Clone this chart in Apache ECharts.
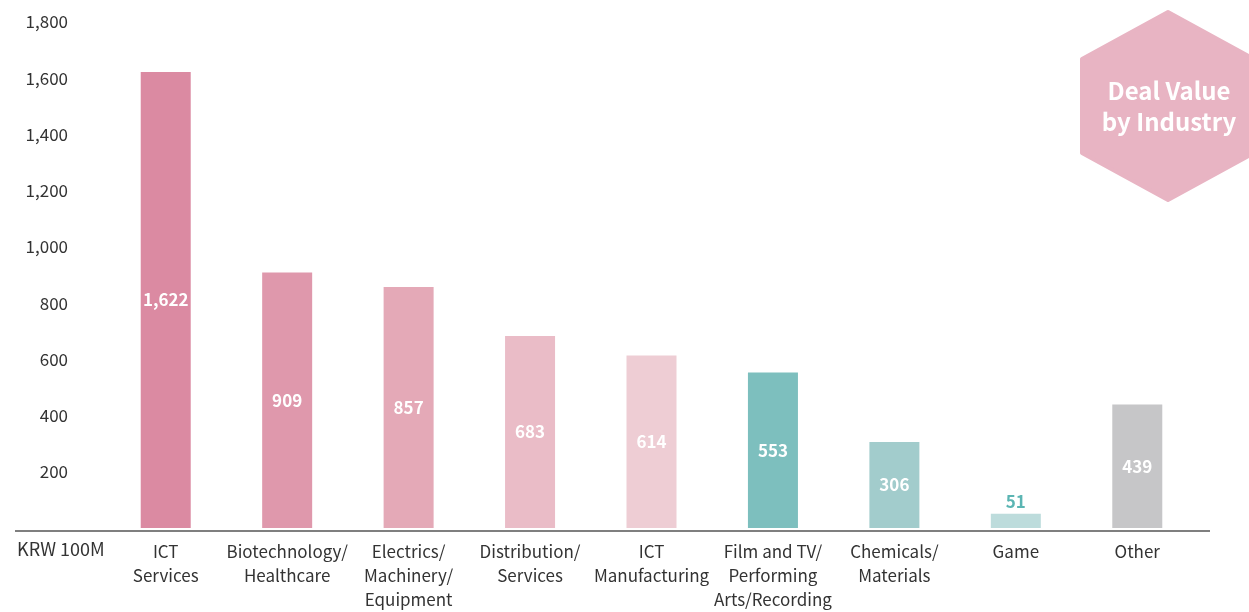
<!DOCTYPE html>
<html>
<head>
<meta charset="utf-8">
<script src="https://cdn.jsdelivr.net/npm/echarts@6/dist/echarts.min.js"></script>
<style>
  html, body { margin: 0; padding: 0; background: #ffffff; }
  #chart { width: 1249px; height: 612px; }
</style>
</head>
<body>
<div id="chart"></div>
<script>
// Deal value by industry, in KRW 100M
const industries = [
  'ICT\nServices',
  'Biotechnology/\nHealthcare',
  'Electrics/\nMachinery/\nEquipment',
  'Distribution/\nServices',
  'ICT\nManufacturing',
  'Film and TV/\nPerforming\nArts/Recording',
  'Chemicals/\nMaterials',
  'Game',
  'Other'
];
const dealValues = [1622, 909, 857, 683, 614, 553, 306, 51, 439];
const barColors = ['#db8aa2', '#df98ac', '#e4a9b7', '#eabcc7', '#eecdd4', '#7dbfbe', '#a2cccc', '#bddcdc', '#c6c6c8'];
const unitLabel = 'KRW 100M';
const badgeLines = ['Deal Value', 'by Industry'];

const FONT = '"Noto Sans CJK KR", "Noto Sans", sans-serif';
const chart = echarts.init(document.getElementById('chart'), null, { renderer: 'canvas' });

const gridLeft = 105, gridRight = 51, gridTop = 22, gridBottom = 81;

// Hexagonal badge in the top-right corner
const hx = 1168, hy = 106, hr = 94, hw = 86;
const hexPoints = [
  [hx, hy - hr], [hx + hw, hy - hr / 2], [hx + hw, hy + hr / 2],
  [hx, hy + hr], [hx - hw, hy + hr / 2], [hx - hw, hy - hr / 2]
];

const option = {
  animation: false,
  textStyle: { fontFamily: FONT },
  grid: { left: gridLeft, right: gridRight, top: gridTop, bottom: gridBottom },
  xAxis: {
    type: 'category',
    data: industries,
    axisLine: { show: false },
    axisTick: { show: false },
    axisLabel: {
      color: '#333333', fontSize: 17, lineHeight: 24, margin: 12,
      fontFamily: FONT, interval: 0
    }
  },
  yAxis: {
    type: 'value',
    min: 0, max: 1800, interval: 200,
    splitLine: { show: false },
    axisLine: { show: false },
    axisTick: { show: false },
    axisLabel: {
      color: '#333333', fontSize: 17, margin: 37, fontFamily: FONT,
      formatter: v => (v === 0 ? '' : v.toLocaleString('en-US'))
    }
  },
  series: [{
    type: 'bar',
    barWidth: 50,
    data: dealValues.map((v, i) => ({
      value: v,
      itemStyle: { color: barColors[i] },
      label: i === 7
        ? { position: 'top', color: '#5bb5b3', distance: 4 }
        : { position: 'inside', color: '#ffffff' }
    })),
    label: {
      show: true, fontSize: 17, fontWeight: 'bold', fontFamily: FONT,
      formatter: p => p.value.toLocaleString('en-US')
    }
  }],
  graphic: [
    {
      type: 'line', z: 10,
      shape: { x1: 15, y1: 612 - gridBottom, x2: 1210, y2: 612 - gridBottom },
      style: { stroke: '#555555', lineWidth: 1.5 }
    },
    {
      type: 'text',
      left: 17, top: 540,
      style: { text: unitLabel, fill: '#333333', font: '18px ' + FONT }
    },
    {
      type: 'polygon',
      shape: { points: hexPoints },
      style: { fill: '#e8b4c3', stroke: '#e8b4c3', lineWidth: 4, lineJoin: 'round' }
    },
    {
      type: 'text',
      x: hx + 1, y: hy - 31,
      style: {
        text: badgeLines.join('\n'),
        fill: '#ffffff', font: 'bold 24px ' + FONT,
        align: 'center', lineHeight: 31
      }
    }
  ]
};

chart.setOption(option);
</script>
</body>
</html>
